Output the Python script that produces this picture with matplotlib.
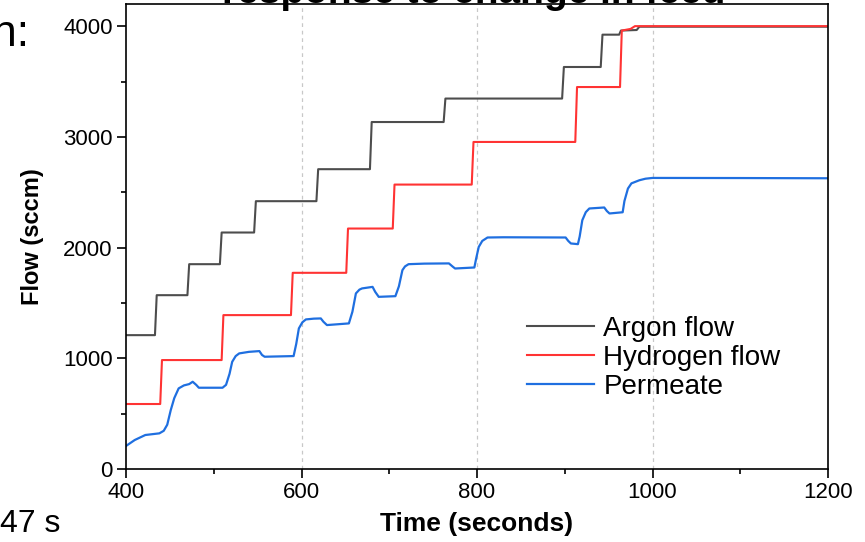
import matplotlib
matplotlib.use("Agg")
import matplotlib.pyplot as plt
from matplotlib.ticker import MultipleLocator

plt.rcParams['font.family'] = ['Liberation Sans', 'DejaVu Sans']

# Argon feed flow (sccm)
argon_t = [400, 433, 435, 470, 472, 507, 509, 546, 548, 617, 619, 678, 680,
           762, 764, 897, 899, 941, 943, 962, 964, 982, 985, 1200]
argon_v = [1209, 1209, 1570, 1570, 1850, 1850, 2136, 2136, 2419, 2419, 2708, 2708, 3134,
           3134, 3346, 3346, 3631, 3631, 3923, 3923, 3960, 3965, 3995, 3995]

# Hydrogen feed flow (sccm)
hydrogen_t = [400, 439, 441, 509, 511, 588, 590, 651, 653, 704, 706,
              794, 796, 912, 914, 963, 965, 975, 980, 1200]
hydrogen_v = [587, 587, 984, 984, 1390, 1390, 1772, 1772, 2172, 2172, 2569,
              2569, 2954, 2954, 3450, 3450, 3960, 3975, 4000, 4000]

# Permeate flow (sccm)
permeate_t = [400, 410, 422, 438, 443, 447, 451, 455, 460, 466, 472, 476, 480, 483,
              510, 514, 518, 521, 525, 529, 540, 552, 555, 558, 591, 594, 597, 601,
              605, 614, 622, 625, 629, 654, 658, 662, 666, 669, 681, 684, 688, 707,
              711, 715, 718, 722, 740, 768, 772, 775, 797, 799, 802, 806, 812, 830,
              901, 904, 907, 915, 917, 920, 924, 928, 945, 948, 951, 966, 968, 972,
              976, 985, 992, 1000, 1100, 1200]
permeate_v = [208, 262, 307, 322, 345, 400, 532, 640, 728, 755, 767, 788, 760, 734,
              734, 760, 860, 968, 1020, 1044, 1058, 1065, 1030, 1014, 1020, 1130, 1270, 1325,
              1351, 1358, 1360, 1330, 1300, 1315, 1420, 1586, 1620, 1631, 1645, 1600, 1555, 1561,
              1650, 1796, 1830, 1850, 1855, 1857, 1830, 1811, 1820, 1900, 2006, 2060, 2091, 2093,
              2091, 2060, 2037, 2031, 2100, 2247, 2320, 2353, 2362, 2330, 2308, 2319, 2420, 2533,
              2580, 2608, 2622, 2629, 2628, 2626]

x_ticks = [400, 600, 800, 1000, 1200]
y_ticks = [0, 1000, 2000, 3000, 4000]

W, H = 865, 542
fig = plt.figure(figsize=(W / 100, H / 100), dpi=100)
ax = fig.add_axes([126 / W, (H - 469) / H, (828 - 126) / W, (469 - 4) / H])

ax.plot(argon_t, argon_v, color='#4d4d4d', lw=1.5, label='Argon flow')
ax.plot(hydrogen_t, hydrogen_v, color='#ff3333', lw=1.5, label='Hydrogen flow')
ax.plot(permeate_t, permeate_v, color='#1f6fe0', lw=1.6, label='Permeate')

ax.set_xlim(400, 1200)
ax.set_ylim(0, 4200)
ax.set_xticks(x_ticks)
ax.set_yticks(y_ticks)
ax.xaxis.set_minor_locator(MultipleLocator(100))
ax.yaxis.set_minor_locator(MultipleLocator(500))
ax.tick_params(which='major', direction='out', length=6.5, width=1.2, labelsize=16, pad=3)
ax.tick_params(which='minor', direction='out', length=3.5, width=1.2)
for s in ax.spines.values():
    s.set_linewidth(1.2)

# dashed guide lines at the inner major x ticks
for xv in x_ticks[1:-1]:
    ax.axvline(xv, color='#c8c8c8', lw=0.9, ls=(0, (3, 3)), zorder=0)

ax.set_xlabel('Time (seconds)', fontsize=19, fontweight='bold', labelpad=6)
ax.set_ylabel('Flow (sccm)', fontsize=17, fontweight='bold', labelpad=14)

ax.legend(loc='center left', bbox_to_anchor=(527 / W, (H - 358) / H),
          bbox_transform=fig.transFigure, frameon=False, fontsize=20,
          handlelength=2.4, handletextpad=0.35, labelspacing=0.1,
          borderpad=0, borderaxespad=0)

# text of the surrounding slide, cut off at the edges
fig.text(474 / W, 1 - 3 / H, 'response to change in feed', ha='center', va='baseline',
         fontsize=28, fontweight='bold')
fig.text(29 / W, 1 - 46 / H, 'n:', ha='right', va='baseline', fontsize=32)
fig.text(0, 1 - 532 / H, '47 s', ha='left', va='baseline', fontsize=23)

fig.savefig('out.png', dpi=100)
